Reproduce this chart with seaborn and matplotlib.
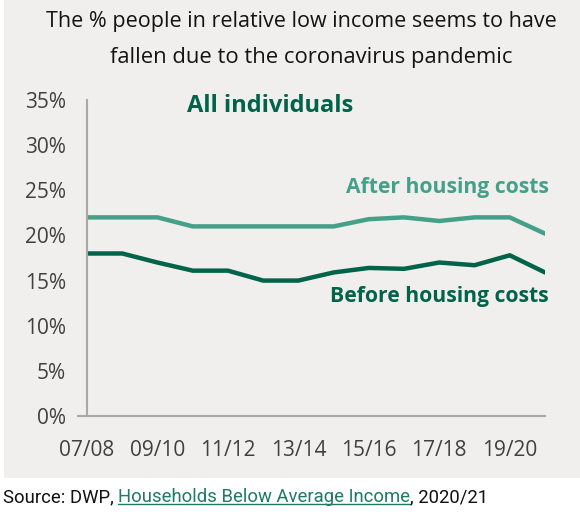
import matplotlib
matplotlib.use("Agg")
import matplotlib.pyplot as plt
import matplotlib.patches as mpatches
import matplotlib.lines as mlines
import seaborn as sns
import pandas as pd

years = ["07/08", "08/09", "09/10", "10/11", "11/12", "12/13", "13/14",
         "14/15", "15/16", "16/17", "17/18", "18/19", "19/20", "20/21"]
after_housing = [22.0, 22.0, 22.0, 21.0, 21.0, 21.0, 21.0,
                 21.0, 21.8, 22.0, 21.6, 22.0, 22.0, 20.2]
before_housing = [18.0, 18.0, 17.0, 16.1, 16.1, 15.0, 15.0,
                  15.9, 16.4, 16.3, 17.0, 16.7, 17.8, 15.9]

df = pd.DataFrame({
    "pos": list(range(len(years))) * 2,
    "value": after_housing + before_housing,
    "series": ["AHC"] * len(years) + ["BHC"] * len(years),
})

TEAL = "#45a089"
DARK = "#00634a"
BG = "#f0efed"
SPINE = "#a9a9a9"

sns.set_theme(style="white")
plt.rcParams["font.family"] = ["Open Sans", "DejaVu Sans"]

W, H = 580, 523
fig = plt.figure(figsize=(W / 100, H / 100), dpi=100, facecolor="white")
fig.patches.append(mpatches.Rectangle((4 / W, 1 - 478 / H), 1, 478 / H,
                                      transform=fig.transFigure,
                                      facecolor=BG, edgecolor="none", zorder=-5))

ax = fig.add_axes([87 / W, 1 - 416 / H, (545 - 87) / W, (416 - 100) / H])
ax.set_facecolor("none")
sns.lineplot(data=df, x="pos", y="value", hue="series",
             palette={"AHC": TEAL, "BHC": DARK}, linewidth=3.2,
             legend=False, ax=ax)

ax.set_xlim(0, len(years) - 1)
ax.set_ylim(0, 35)
ax.set_xlabel("")
ax.set_ylabel("")
ax.set_xticks(range(len(years)))
ax.set_xticklabels([y if i % 2 == 0 else "" for i, y in enumerate(years)])
ax.set_yticks(range(0, 36, 5))
ax.set_yticklabels([f"{v}%" for v in range(0, 36, 5)])
ax.tick_params(axis="both", colors=SPINE, labelcolor="#404040",
               labelsize=15, width=1.5, direction="out")
ax.tick_params(axis="x", length=6, pad=11)
ax.tick_params(axis="y", length=8, pad=7)
for s in ["top", "right"]:
    ax.spines[s].set_visible(False)
for s in ["left", "bottom"]:
    ax.spines[s].set_color(SPINE)
    ax.spines[s].set_linewidth(1.5)
ax.spines["bottom"].set_bounds(-0.25, len(years) - 1)

ax.text(5.2, 34.3, "All individuals", color=DARK, fontsize=17,
        fontweight="bold", ha="center", va="center")
ax.text(13.1, 25.3, "After housing costs", color=TEAL, fontsize=15.2,
        fontweight="bold", ha="right", va="center")
ax.text(13.1, 13.2, "Before housing costs", color=DARK, fontsize=15.2,
        fontweight="bold", ha="right", va="center")

fig.text(301 / W, 1 - 22 / H,
         "The % people in relative low income seems to have",
         ha="center", va="center", fontsize=15.5, color="#141414")
fig.text(311 / W, 1 - 57 / H,
         "fallen due to the coronavirus pandemic",
         ha="center", va="center", fontsize=15.8, color="#141414")

# source line with underlined link
fig.canvas.draw()
renderer = fig.canvas.get_renderer()
src_font = dict(fontsize=13.3, va="center", family=["Roboto", "DejaVu Sans"])
y_src = 1 - 497 / H
x = 3 / W
parts = [("Source: DWP, ", "#111111", False),
         ("Households Below Average Income", "#1e7a63", True),
         (", 2020/21", "#111111", False)]
for txt, col, underline in parts:
    t = fig.text(x, y_src, txt, color=col, ha="left", **src_font)
    bb = t.get_window_extent(renderer).transformed(fig.transFigure.inverted())
    if underline:
        fig.lines.append(mlines.Line2D([bb.x0, bb.x1], [bb.y0 + 0.004, bb.y0 + 0.004],
                                       transform=fig.transFigure, color=col,
                                       linewidth=1.0))
    x = bb.x1

fig.savefig("out.png", dpi=100, facecolor="white")
